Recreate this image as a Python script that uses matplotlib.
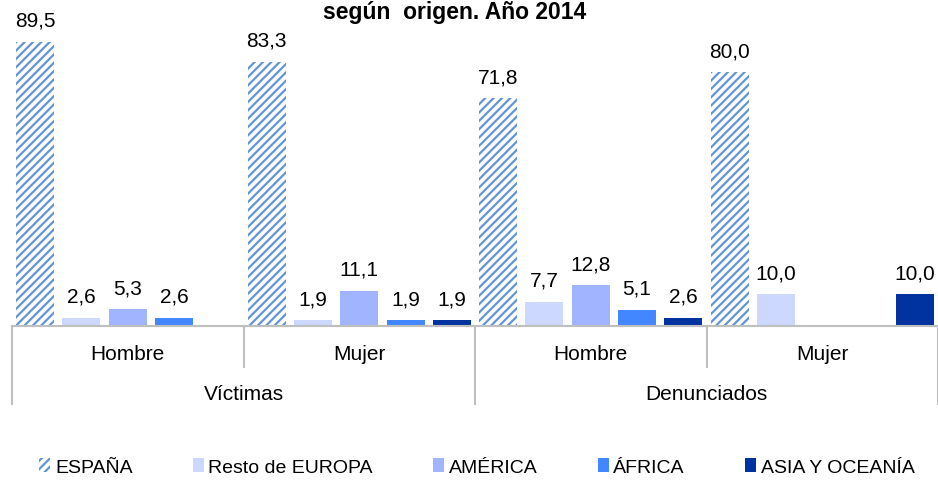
import numpy as np
import matplotlib.pyplot as plt
from matplotlib.patches import Patch

plt.rcParams["font.family"] = ["Liberation Sans", "DejaVu Sans"]
plt.rcParams["hatch.linewidth"] = 1.6

groups = ["Víctimas", "Denunciados"]
sexes = ["Hombre", "Mujer"]
series = ["ESPAÑA", "Resto de EUROPA", "AMÉRICA", "ÁFRICA", "ASIA Y OCEANÍA"]
# one row per (group, sex), columns follow series; None = no bar
values = [
    [89.5, 2.6, 5.3, 2.6, None],
    [83.3, 1.9, 11.1, 1.9, 1.9],
    [71.8, 7.7, 12.8, 5.1, 2.6],
    [80.0, 10.0, None, None, 10.0],
]
colors = ["white", "#ccd8ff", "#a0b4ff", "#4287ff", "#0033a0"]
hatch_color = "#6494d8"

fig = plt.figure(figsize=(9.38, 4.81), dpi=100)
W, H = 938, 481
ax = fig.add_axes([12 / W, (H - 327) / H, 926 / W, 327 / H])

n = len(series)
for r, row in enumerate(values):
    for i, v in enumerate(row):
        if v is None:
            continue
        x = r * n + i
        if i == 0:
            ax.bar(x, v, width=0.82, color="white", edgecolor=hatch_color,
                   hatch="////", linewidth=0)
        else:
            ax.bar(x, v, width=0.82, color=colors[i], linewidth=0)
        ax.text(x, v + 5, f"{v:.1f}".replace(".", ","), ha="center",
                va="baseline", fontsize=15)

ax.set_xlim(-0.5, len(values) * n - 0.5)
ax.set_ylim(0, 103)
ax.set_xticks([])
ax.set_yticks([])
for s in ["top", "left", "right"]:
    ax.spines[s].set_visible(False)
ax.spines["bottom"].set_color("#bfbfbf")
ax.spines["bottom"].set_linewidth(1.5)

tr = ax.get_xaxis_transform()
ah = 327.0
row1 = -41 / ah
row2 = -78 / ah
gray = "#bfbfbf"
# separators
for k in range(len(values) + 1):
    x = k * n - 0.5
    y_end = row2 if k % 2 == 0 else row1
    ax.plot([x, x], [0, y_end], color=gray, lw=1.5, transform=tr, clip_on=False)

for r in range(len(values)):
    ax.text(r * n + (n - 1) / 2, -28 / ah, sexes[r % 2], transform=tr,
            ha="center", va="center", fontsize=15)
for g, name in enumerate(groups):
    ax.text(g * 2 * n + n - 0.5, -68 / ah, name, transform=tr,
            ha="center", va="center", fontsize=15)

fig.text(455 / W, 1 - 1 / H, "según  origen. Año 2014", ha="center",
         va="top", fontsize=16.5, fontweight="bold")

handles = [Patch(facecolor="white", edgecolor=hatch_color, hatch="////", linewidth=0)]
handles += [Patch(facecolor=c, linewidth=0) for c in colors[1:]]
fig.legend(handles, series, loc="center", bbox_to_anchor=(477 / W, 1 - 468 / H),
           ncol=5, frameon=False, fontsize=14, handlelength=0.55,
           handleheight=0.75, handletextpad=0.25, columnspacing=3.1)

fig.savefig("out.png", dpi=100)
